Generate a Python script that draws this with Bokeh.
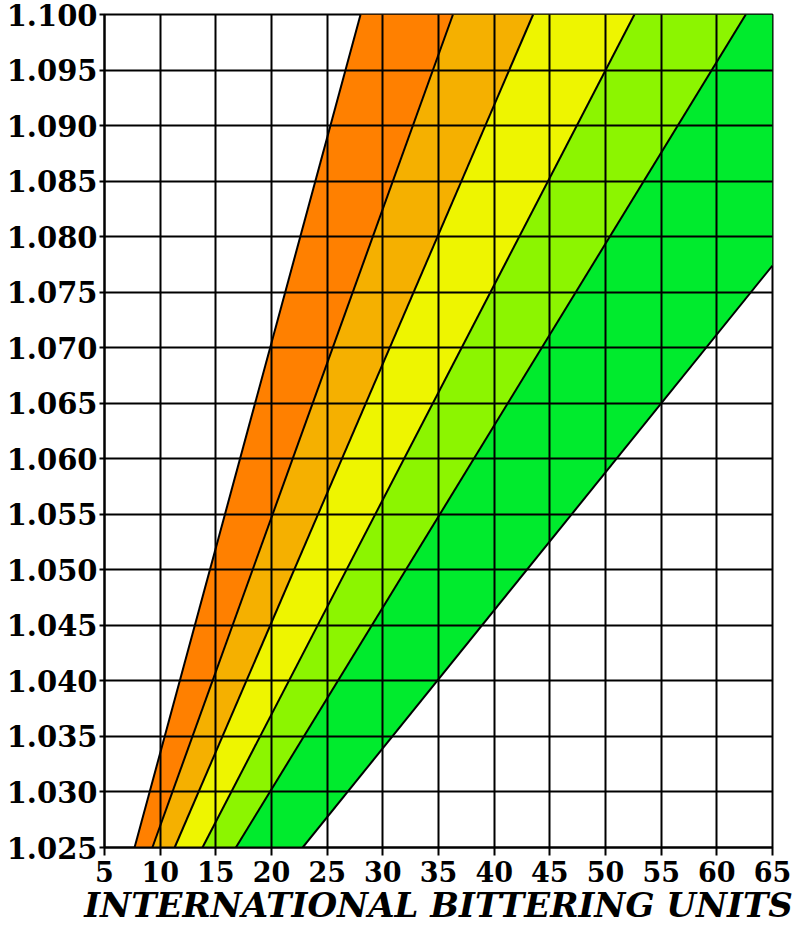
import numpy as np
from bokeh.plotting import figure
from bokeh.models import FixedTicker, Range1d
from bokeh.embed import file_html
from bokeh.resources import INLINE

# ---- data ----
ibu_ticks = [5, 10, 15, 20, 25, 30, 35, 40, 45, 50, 55, 60, 65]
ibu_tick_labels = ["5", "10", "15", "20", "25", "30", "35", "40", "45", "50", "55", "60", "65"]
og_ticks = [1.025, 1.030, 1.035, 1.040, 1.045, 1.050, 1.055, 1.060,
            1.065, 1.070, 1.075, 1.080, 1.085, 1.090, 1.095, 1.100]
og_tick_labels = ["1.025", "1.030", "1.035", "1.040", "1.045", "1.050", "1.055", "1.060",
                  "1.065", "1.070", "1.075", "1.080", "1.085", "1.090", "1.095", "1.100"]
og_bottom = 1.025
og_top = 1.100
ibu_min = 5
ibu_max = 65
# boundary lines: IBU at OG 1.025 and at OG 1.100 (last one extrapolated past the chart edge)
boundary_ibu_at_bottom = [7.7, 9.3, 11.3, 13.8, 16.8, 22.8]
boundary_ibu_at_top = [28.0, 36.3, 43.5, 52.6, 62.6, 83.2]
band_colors = ["#FF8000", "#F5B000", "#EEF500", "#8CF500", "#00EB2D"]
x_title = "INTERNATIONAL BITTERING UNITS"


def clip_right(xs, ys, xmax):
    out_x, out_y = [], []
    n = len(xs)
    for i in range(n):
        x1, y1 = xs[i], ys[i]
        x2, y2 = xs[(i + 1) % n], ys[(i + 1) % n]
        in1, in2 = x1 <= xmax, x2 <= xmax
        if in1:
            out_x.append(x1)
            out_y.append(y1)
        if in1 != in2:
            t = (xmax - x1) / (x2 - x1)
            out_x.append(xmax)
            out_y.append(y1 + t * (y2 - y1))
    return out_x, out_y


p = figure(width=800, height=927, output_backend="svg", toolbar_location=None,
           x_range=Range1d(ibu_min, ibu_max), y_range=Range1d(og_bottom, og_top),
           min_border_left=104, min_border_right=28, min_border_top=14, min_border_bottom=78)

# colored bands
pxs, pys = [], []
for i in range(len(band_colors)):
    xs = [boundary_ibu_at_bottom[i], boundary_ibu_at_top[i],
          boundary_ibu_at_top[i + 1], boundary_ibu_at_bottom[i + 1]]
    ys = [og_bottom, og_top, og_top, og_bottom]
    cx, cy = clip_right(xs, ys, ibu_max)
    pxs.append(cx)
    pys.append(cy)
p.patches(pxs, pys, fill_color=band_colors, line_color=None)

# boundary lines
x0s, y0s, x1s, y1s = [], [], [], []
for b, t in zip(boundary_ibu_at_bottom, boundary_ibu_at_top):
    if t > ibu_max:
        og_end = og_bottom + (ibu_max - b) / (t - b) * (og_top - og_bottom)
        x1, y1 = ibu_max, og_end
    else:
        x1, y1 = t, og_top
    x0s.append(b); y0s.append(og_bottom); x1s.append(x1); y1s.append(y1)
p.segment(x0s, y0s, x1s, y1s, line_color="black", line_width=2)

# grid
for g, ticks in ((p.xgrid, ibu_ticks), (p.ygrid, og_ticks)):
    g.ticker = FixedTicker(ticks=ticks)
    g.grid_line_color = "black"
    g.grid_line_width = 2
    g.grid_line_alpha = 1.0
    g.level = "annotation"

p.xaxis.ticker = FixedTicker(ticks=ibu_ticks)
p.yaxis.ticker = FixedTicker(ticks=og_ticks)
p.xaxis.major_label_overrides = {t: l for t, l in zip(ibu_ticks, ibu_tick_labels)}
p.yaxis.major_label_overrides = {t: l for t, l in zip(og_ticks, og_tick_labels)}

for ax in (p.xaxis[0], p.yaxis[0]):
    ax.axis_line_color = "black"
    ax.axis_line_width = 2
    ax.major_tick_line_color = "black"
    ax.major_tick_line_width = 2
    ax.minor_tick_line_color = None
    ax.major_tick_in = 0
    ax.major_label_text_font = "DejaVu Serif"
    ax.major_label_text_font_style = "bold"
    ax.major_label_text_color = "black"

p.yaxis.major_label_text_font_size = "29px"
p.xaxis.major_label_text_font_size = "27px"
p.yaxis.major_tick_out = 5
p.yaxis.major_label_standoff = 2
p.xaxis.major_tick_out = 8
p.xaxis.major_label_standoff = 5

p.xaxis.axis_label = x_title
p.xaxis.axis_label_text_font = "DejaVu Serif"
p.xaxis.axis_label_text_font_style = "bold italic"
p.xaxis.axis_label_text_font_size = "34px"
p.xaxis.axis_label_text_color = "black"
p.xaxis.axis_label_standoff = 0

p.outline_line_color = "black"
p.outline_line_width = 2
p.background_fill_color = "white"
p.border_fill_color = "white"

open("out.html", "w").write(file_html(p, INLINE))
